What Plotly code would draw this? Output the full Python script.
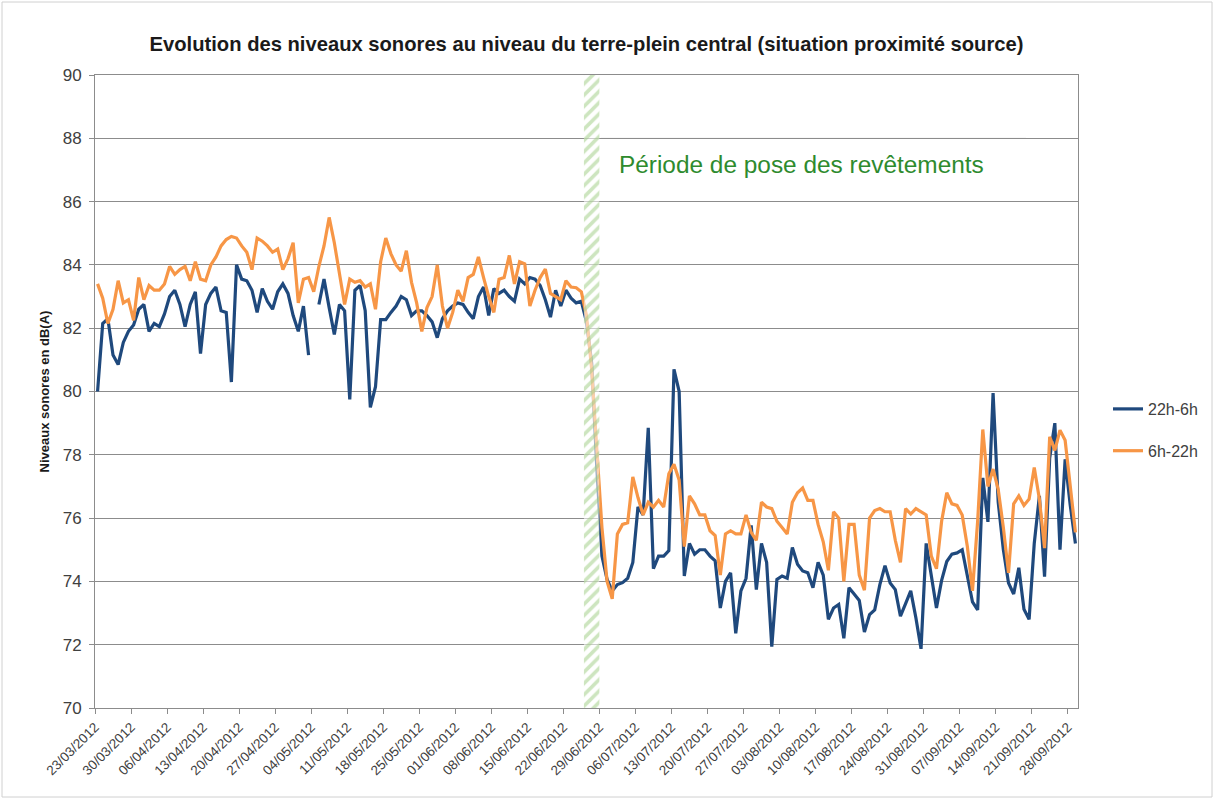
import pandas as pd
import plotly.graph_objects as go

# ---------------- data ----------------
start_date = "2012-03-23"
n_days = 191
band_start = "2012-06-26"
band_end = "2012-06-29"
axis_end = "2012-09-30"

title_text = "Evolution des niveaux sonores au niveau du terre-plein central (situation proximité source)"
y_title = "Niveaux sonores en dB(A)"
band_label = "Période de pose des revêtements"
series_names = ["22h-6h", "6h-22h"]

night = [
    80.0, 82.15, 82.3, 81.15, 80.85, 81.55, 81.9, 82.1, 82.6, 82.75,
    81.9, 82.15, 82.05, 82.45, 83.0, 83.2, 82.75, 82.05, 82.75, 83.15,
    81.2, 82.75, 83.1, 83.3, 82.55, 82.5, 80.3, 84.0, 83.55, 83.5,
    83.2, 82.5, 83.25, 82.85, 82.6, 83.15, 83.4, 83.1, 82.4, 81.9,
    82.7, 81.15, None, 82.75, 83.55, 82.65, 81.8, 82.75, 82.55, 79.75,
    83.2, 83.35, 82.55, 79.5, 80.15, 82.27, 82.27, 82.5, 82.7, 83.0,
    82.9, 82.4, 82.55, 82.55, 82.4, 82.2, 81.7, 82.3, 82.55, 82.7,
    82.8, 82.75, 82.5, 82.3, 83.0, 83.3, 82.4, 83.25, 83.1, 83.2,
    83.0, 82.85, 83.55, 83.4, 83.6, 83.55, 83.35, 82.9, 82.35, 83.2,
    82.7, 83.2, 82.95, 82.8, 82.85, 82.2, 80.9, 77.6, 74.8, 74.06,
    73.7, 73.9, 73.96, 74.1, 74.6, 76.35, 76.1, 78.85, 74.4, 74.8,
    74.8, 74.97, 80.7, 80.0, 74.17, 75.2, 74.86, 75.0, 75.0, 74.8,
    74.65, 73.16, 74.0, 74.27, 72.36, 73.7, 74.1, 75.77, 73.74, 75.2,
    74.6, 71.94, 74.06, 74.17, 74.1, 75.07, 74.54, 74.33, 74.27, 73.8,
    74.6, 74.2, 72.8, 73.16, 73.27, 72.2, 73.8, 73.6, 73.4, 72.4,
    72.95, 73.1, 73.9, 74.5, 73.95, 73.74, 72.9, 73.3, 73.7, 72.85,
    71.87, 75.2, 74.2, 73.16, 74.03, 74.63, 74.86, 74.9, 75.0, 74.2,
    73.35, 73.1, 77.27, 75.88, 79.95, 76.5, 75.0, 73.95, 73.6, 74.43,
    73.12, 72.8, 75.2, 76.7, 74.15, 77.9, 79.0, 75.0, 77.86, 76.4,
    75.2,
]

day = [
    83.4, 82.95, 82.15, 82.6, 83.5, 82.8, 82.9, 82.25, 83.6, 82.9,
    83.35, 83.2, 83.2, 83.4, 83.95, 83.7, 83.85, 83.95, 83.5, 84.1,
    83.55, 83.5, 84.0, 84.25, 84.6, 84.8, 84.9, 84.85, 84.6, 84.4,
    83.85, 84.85, 84.75, 84.6, 84.4, 84.5, 83.85, 84.2, 84.7, 82.8,
    83.55, 83.6, 83.15, 83.95, 84.6, 85.5, 84.7, 83.7, 82.75, 83.55,
    83.45, 83.5, 83.3, 83.4, 82.6, 84.1, 84.85, 84.35, 84.0, 83.8,
    84.45, 83.45, 82.8, 81.9, 82.65, 83.0, 84.0, 82.7, 82.0, 82.5,
    83.2, 82.85, 83.6, 83.7, 84.25, 83.6, 83.0, 82.5, 83.55, 83.6,
    84.3, 83.4, 84.1, 84.03, 82.7, 83.2, 83.6, 83.87, 83.1, 83.0,
    82.9, 83.5, 83.3, 83.28, 83.15, 82.4, 80.7, 78.2, 75.7, 74.0,
    73.45, 75.5, 75.8, 75.85, 77.3, 76.65, 76.1, 76.5, 76.35, 76.56,
    76.35, 77.4, 77.7, 77.2, 75.1, 76.7, 76.45, 76.1, 76.1, 75.6,
    75.45, 74.2, 75.5, 75.6, 75.5, 75.5, 76.1, 75.55, 75.3, 76.5,
    76.35, 76.3, 75.9, 75.7, 75.5, 76.5, 76.8, 76.95, 76.56, 76.56,
    75.8, 75.25, 74.35, 76.2, 76.0, 74.0, 75.8, 75.8, 74.2, 73.72,
    76.0, 76.24, 76.3, 76.2, 76.2, 75.3, 74.6, 76.3, 76.13, 76.3,
    76.2, 76.1, 74.8, 74.4, 75.9, 76.8, 76.45, 76.4, 76.1, 75.1,
    73.7, 75.9, 78.8, 77.0, 77.55, 76.9, 75.7, 74.27, 76.45, 76.7,
    76.4, 76.6, 77.6, 76.6, 75.05, 78.57, 78.14, 78.78, 78.46, 76.9,
    75.55,
]

y_min, y_max, y_step = 70, 90, 2

# ---------------- figure ----------------
dates = pd.date_range(start_date, periods=n_days, freq="D") + pd.Timedelta(hours=12)

BLUE = "#1F497D"
ORANGE = "#F79646"
GRID = "#8C8C8C"
TXT = "#404040"
GREEN = "#2E8B2E"

fig = go.Figure()

fig.add_trace(go.Scatter(
    x=dates, y=night, name=series_names[0], mode="lines",
    line=dict(color=BLUE, width=3.2), connectgaps=False, legendgroup="a",
))
fig.add_trace(go.Scatter(
    x=dates, y=day, name=series_names[1], mode="lines",
    line=dict(color=ORANGE, width=3.2), legendgroup="b",
))

# hatched band (drawn over the lines, semi-opaque)
fig.add_trace(go.Scatter(
    x=[band_start, band_end, band_end, band_start, band_start],
    y=[y_min, y_min, y_max, y_max, y_min],
    mode="none", fill="toself", showlegend=False, hoverinfo="skip",
    fillpattern=dict(shape="/", fgcolor="#9CCB80", bgcolor="rgba(255,255,255,0.55)",
                     size=8, solidity=0.45),
))

L, R, T, B = 95, 137, 75, 92
W, H = 1215, 800
pw = W - L - R
ph = H - T - B

def px_x(px):
    return (px - L) / pw

def px_y(py):
    return (H - B - py) / ph

fig.update_layout(
    width=W, height=H, autosize=False,
    margin=dict(l=L, r=R, t=T, b=B),
    paper_bgcolor="white", plot_bgcolor="white",
    font=dict(family="Liberation Sans, Arial, sans-serif", color=TXT),
    title=dict(text="<b>" + title_text + "</b>", x=(L + pw / 2) / W,
               xanchor="center", y=1 - 44 / H, yanchor="middle", yref="container",
               font=dict(size=20.2, color="#1a1a1a", family="Liberation Sans, Arial, sans-serif")),
    showlegend=True,
    legend=dict(x=px_x(1108), y=px_y(430), xanchor="left", yanchor="middle",
                font=dict(size=16, color=TXT), bgcolor="rgba(0,0,0,0)",
                traceorder="grouped", tracegroupgap=18, itemwidth=30),
    hovermode=False,
)

fig.update_xaxes(
    type="date", range=[start_date, axis_end],
    tick0=start_date, dtick=7 * 86400000, tickformat="%d/%m/%Y", tickangle=-45,
    ticks="outside", ticklen=5, tickcolor=GRID,
    showline=True, linecolor=GRID, linewidth=1, mirror=True,
    showgrid=False, zeroline=False,
    tickfont=dict(size=13.5, color=TXT),
)
fig.update_yaxes(
    range=[y_min, y_max], dtick=y_step, tick0=y_min,
    ticks="outside", ticklen=5, tickcolor=GRID,
    showline=True, linecolor=GRID, linewidth=1, mirror=True,
    showgrid=True, gridcolor=GRID, gridwidth=1, zeroline=False,
    tickfont=dict(size=17, color=TXT), ticklabelstandoff=4,
    title=dict(text="<b>" + y_title + "</b>", font=dict(size=13, color="#1a1a1a"), standoff=10),
)

# text box with white fill (hides part of the 88 gridline), light top edge
box_top = y_max - y_step
fig.add_shape(type="rect", xref="paper", yref="y", x0=px_x(601), x1=px_x(1026),
              y0=box_top - 1.6, y1=box_top, fillcolor="white", line=dict(width=0), layer="between")
fig.add_shape(type="line", xref="paper", yref="y", x0=px_x(601), x1=px_x(1026),
              y0=box_top, y1=box_top, line=dict(color="#D9D9D9", width=1), layer="between")

fig.add_annotation(
    text=band_label, xref="paper", yref="paper", x=px_x(617), y=px_y(164),
    xanchor="left", yanchor="middle", showarrow=False,
    font=dict(size=24.4, color=GREEN, family="Liberation Sans, Arial, sans-serif"),
)

# outer frame of the chart area
fig.add_shape(type="rect", xref="paper", yref="paper",
              x0=px_x(2), x1=px_x(1212), y0=px_y(797), y1=px_y(2),
              line=dict(color="#D0D0D0", width=1), fillcolor="rgba(0,0,0,0)", layer="below")

fig.write_html("out.html", config={"displayModeBar": False},
               post_script="document.body.style.margin='0';")
